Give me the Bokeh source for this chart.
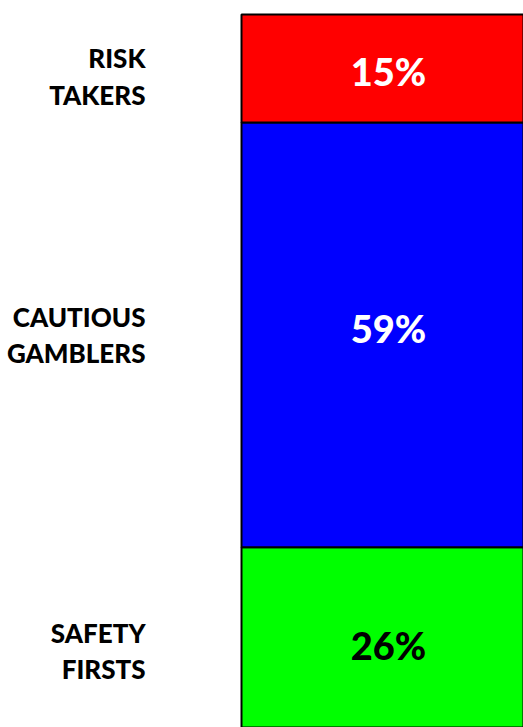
from bokeh.plotting import figure
from bokeh.models import Range1d, ColumnDataSource
from bokeh.core.properties import value
from bokeh.embed import file_html
from bokeh.resources import INLINE

categories = ["SAFETY\nFIRSTS", "CAUTIOUS\nGAMBLERS", "RISK\nTAKERS"]
shares = [26, 59, 15]
colors = ["#00ff00", "#0000ff", "#ff0000"]
label_colors = ["black", "white", "white"]

# small vertical nudges (screen px, positive = down) for text placement
cat_nudge = [10, 0, 8]
pct_nudge = [4, -7, 2]

bottoms, tops = [], []
acc = 0
for s in shares:
    bottoms.append(acc)
    acc += s
    tops.append(acc)
mids = [(b + t) / 2 for b, t in zip(bottoms, tops)]

W, H = 523, 727
px_per_pct = 7.2
bar_left_px, bar_px, top_px, label_right_px = 241, 294, 14, 145

y_top = 100 + top_px / px_per_pct
y_bot = y_top - H / px_per_pct
x_start = -0.5 - bar_left_px / bar_px
x_end = x_start + W / bar_px
lx = x_start + label_right_px / bar_px

src = ColumnDataSource(dict(
    x=[0] * len(shares), bottom=bottoms, top=tops, mid=mids,
    color=colors, cat=categories,
    pct=[f"{s}%" for s in shares], lc=label_colors,
    lx=[lx] * len(shares), cn=cat_nudge, pn=pct_nudge,
))

p = figure(width=W, height=H, output_backend="svg", toolbar_location=None,
           x_range=Range1d(x_start, x_end), y_range=Range1d(y_bot, y_top),
           min_border=0, outline_line_color=None)
p.axis.visible = False
p.grid.visible = False

p.vbar(x="x", width=1, bottom="bottom", top="top", fill_color="color",
       line_color="black", line_width=2, source=src)

p.text(x="x", y="mid", text="pct", text_color="lc", source=src,
       y_offset="pn",
       text_font=value("Lato Black"), text_font_style="bold",
       text_font_size="38px", text_align="center", text_baseline="middle")

p.text(x="lx", y="mid", text="cat", source=src, text_color="black",
       y_offset="cn",
       text_font=value("Lato Black"), text_font_style="bold",
       text_font_size="26px", text_align="right", text_baseline="middle",
       text_line_height=1.15)

open("out.html", "w").write(file_html(p, INLINE))
